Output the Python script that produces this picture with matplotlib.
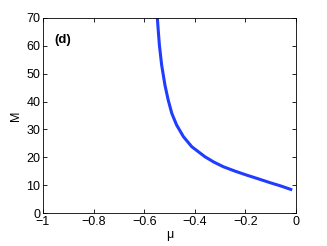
import matplotlib
matplotlib.use("Agg")
import matplotlib.pyplot as plt

plt.rcParams['font.family'] = ['Liberation Sans', 'DejaVu Sans']

mu = [-0.548, -0.544, -0.540, -0.531, -0.518, -0.505, -0.491, -0.472, -0.445, -0.412, -0.386, -0.360, -0.325, -0.287, -0.240, -0.195, -0.150, -0.103, -0.060, -0.015]
M = [70.0, 65.0, 60.3, 53.1, 45.9, 40.5, 35.8, 31.6, 27.4, 23.8, 22.0, 20.2, 18.3, 16.6, 15.0, 13.6, 12.3, 10.9, 9.7, 8.3]

xticks = [-1, -0.8, -0.6, -0.4, -0.2, 0]
xticklabels = ['\u22121', '\u22120.8', '\u22120.6', '\u22120.4', '\u22120.2', '0']
yticks = [0, 10, 20, 30, 40, 50, 60, 70]

fig = plt.figure(figsize=(3.27, 2.46), dpi=100)
ax = fig.add_axes([43/327, 1-213/246, 253/327, 195/246])
ax.plot(mu, M, color='#1f3cff', lw=2.2, solid_capstyle='butt', solid_joinstyle='round')
ax.set_xlim(-1, 0)
ax.set_ylim(0, 70)
ax.set_xticks(xticks)
ax.set_xticklabels(xticklabels)
ax.set_yticks(yticks)
ax.tick_params(direction='in', top=True, right=True, labelsize=9, length=3, width=0.6, pad=2)
for s in ax.spines.values():
    s.set_linewidth(0.6)
ax.set_xlabel('\u03bc', fontsize=9, labelpad=1)
ax.set_ylabel('M', fontsize=9, labelpad=3)
ax.text(-0.955, 62, '(d)', fontsize=9.5, fontweight='bold', va='center', ha='left')
fig.savefig('out.png', dpi=100)
